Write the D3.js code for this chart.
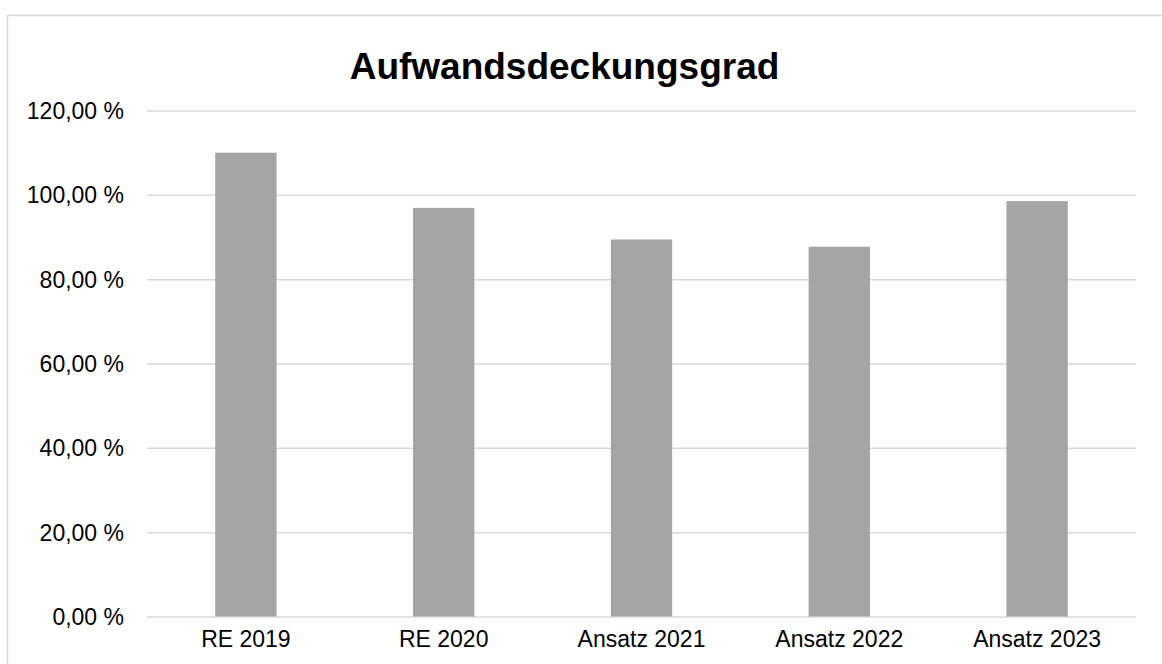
<!DOCTYPE html>
<html>
<head>
<meta charset="utf-8">
<script src="https://cdn.jsdelivr.net/npm/d3@7"></script>
<style>
  body { margin: 0; background: #fff; }
  #svg-container { width: 1162px; height: 664px; }
  text { font-family: "Liberation Sans", Arial, sans-serif; }
</style>
</head>
<body>
<div id="svg-container"></div>
<script>
// data
const categories = ["RE 2019", "RE 2020", "Ansatz 2021", "Ansatz 2022", "Ansatz 2023"];
const values = [110.0, 96.9, 89.4, 87.7, 98.5];
const yTicks = [0, 20, 40, 60, 80, 100, 120];
const title = "Aufwandsdeckungsgrad";

// svg
const width = 1162;
const height = 664;
const margin = { top: 110.5, right: 26, bottom: 47.5, left: 147 };

const svg = d3.select("#svg-container").append("svg")
  .attr("width", width)
  .attr("height", height);

// chart border
svg.append("rect")
  .attr("x", 7.5).attr("y", 15.5)
  .attr("width", width).attr("height", height)
  .attr("fill", "none")
  .attr("stroke", "#d9d9d9")
  .attr("stroke-width", 1.5);

// scale
const xScale = d3.scaleBand()
  .domain(categories)
  .range([margin.left, width - margin.right])
  .paddingInner(0.69)
  .paddingOuter(0.345);

const yScale = d3.scaleLinear()
  .domain([0, 120])
  .range([height - margin.bottom, margin.top]);

// gridlines + y labels
const yAxis = d3.axisLeft(yScale)
  .tickValues(yTicks)
  .tickSize(-(width - margin.right - margin.left))
  .tickPadding(23)
  .tickFormat((d) => d3.format(".2f")(d).replace(".", ",") + " %");

svg.append("g")
  .attr("class", "y-axis")
  .attr("transform", `translate(${margin.left},0)`)
  .call(yAxis)
  .call((g) => g.select(".domain").remove())
  .call((g) => g.selectAll(".tick line").attr("stroke", "#d9d9d9").attr("stroke-width", 1.5))
  .call((g) => g.selectAll(".tick text")
    .attr("fill", "#000")
    .style("font-size", "23px")
    .attr("dy", "0.35em"));

// bars
svg.selectAll(".bar")
  .data(values)
  .enter()
  .append("rect")
  .attr("class", "bar")
  .attr("x", (d, i) => xScale(categories[i]))
  .attr("y", (d) => yScale(d))
  .attr("width", xScale.bandwidth())
  .attr("height", (d) => yScale(0) - yScale(d))
  .attr("fill", "#a5a5a5");

// x labels
const xAxis = d3.axisBottom(xScale).tickSize(0).tickPadding(14);
svg.append("g")
  .attr("class", "x-axis")
  .attr("transform", `translate(0, ${height - margin.bottom})`)
  .call(xAxis)
  .call((g) => g.select(".domain").remove())
  .call((g) => g.selectAll(".tick text")
    .attr("fill", "#000")
    .style("font-size", "23px"));

// title
svg.append("text")
  .attr("x", 564.5)
  .attr("y", 79)
  .attr("text-anchor", "middle")
  .style("font-size", "37px")
  .style("font-weight", "bold")
  .attr("fill", "#000")
  .text(title);
</script>
</body>
</html>
